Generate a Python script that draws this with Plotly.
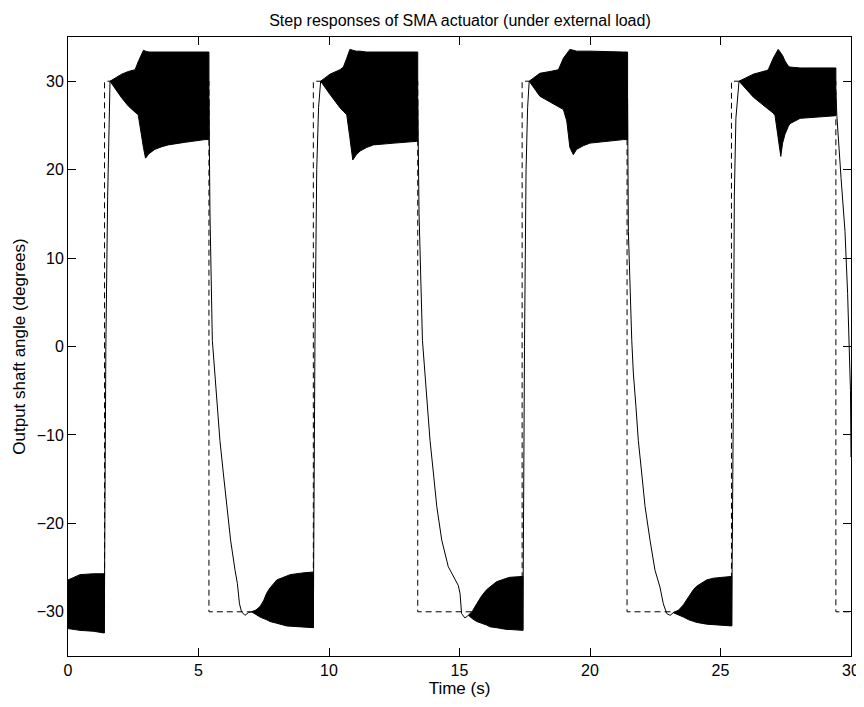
import plotly.graph_objects as go

# ---- reference (dashed square wave) ----
ref_t = [0, 1.40, 1.40, 5.40, 5.40, 9.40, 9.40, 13.40, 13.40, 17.40, 17.40, 21.42, 21.42, 25.42, 25.42, 29.42, 29.42, 30]
ref_y = [-30, -30, 30, 30, -30, -30, 30, 30, -30, -30, 30, 30, -30, -30, 30, 30, -30, -30]

# ---- oscillation envelopes (black bands) ----
bandL0_t = [0, 0.46, 0.97, 1.39]
bandL0_up = [-26.4, -25.8, -25.7, -25.7]
bandL0_lo = [-31.9, -32.1, -32.2, -32.4]

bandH1_t = [1.61, 2.06, 2.31, 2.57, 2.69, 2.82, 2.89, 2.97, 3.10, 3.33, 3.60, 3.84, 4.50, 5.25, 5.40]
bandH1_up = [30.0, 30.8, 31.1, 31.3, 32.2, 33.0, 33.5, 33.4, 33.3, 33.3, 33.3, 33.3, 33.3, 33.3, 33.3]
bandH1_lo = [30.0, 28.1, 27.2, 26.5, 26.2, 24.0, 22.5, 21.3, 21.8, 22.3, 22.6, 22.8, 23.1, 23.4, 23.4]

bandL1_t = [7.03, 7.20, 7.36, 7.50, 7.61, 7.74, 8.00, 8.38, 8.51, 9.00, 9.40]
bandL1_up = [-30.0, -29.8, -29.4, -28.7, -27.9, -27.3, -26.4, -25.9, -25.8, -25.6, -25.5]
bandL1_lo = [-30.0, -30.3, -30.6, -30.8, -30.9, -31.1, -31.3, -31.6, -31.6, -31.7, -31.8]

bandH2_t = [9.68, 10.04, 10.42, 10.55, 10.68, 10.80, 10.91, 11.05, 11.19, 11.44, 11.70, 12.50, 13.36, 13.40]
bandH2_up = [30.0, 30.8, 31.3, 31.6, 32.6, 33.6, 33.5, 33.4, 33.4, 33.3, 33.3, 33.3, 33.3, 33.3]
bandH2_lo = [30.0, 28.5, 27.0, 26.6, 26.2, 23.6, 21.1, 21.7, 22.1, 22.5, 22.8, 23.0, 23.2, 23.2]

bandL2_t = [15.34, 15.50, 15.66, 15.85, 16.04, 16.17, 16.42, 16.81, 16.93, 17.43]
bandL2_up = [-30.4, -29.9, -29.1, -28.2, -27.5, -27.2, -26.6, -26.2, -26.1, -26.0]
bandL2_lo = [-30.4, -30.8, -31.1, -31.3, -31.5, -31.7, -31.8, -32.0, -32.0, -32.1]

bandH3_t = [17.67, 18.08, 18.47, 18.60, 18.79, 18.98, 19.11, 19.23, 19.36, 19.49, 19.74, 20.00, 21.28, 21.44]
bandH3_up = [30.0, 30.9, 31.1, 31.2, 31.3, 32.6, 33.2, 33.6, 33.5, 33.4, 33.4, 33.4, 33.3, 33.3]
bandH3_lo = [30.0, 28.3, 27.6, 27.4, 27.1, 26.8, 25.5, 22.5, 21.7, 22.3, 22.7, 23.0, 23.4, 23.4]

bandL3_t = [23.19, 23.40, 23.58, 23.78, 23.96, 24.09, 24.47, 24.73, 24.98, 25.43]
bandL3_up = [-30.1, -29.8, -29.2, -28.3, -27.5, -27.1, -26.4, -26.2, -26.1, -26.0]
bandL3_lo = [-30.1, -30.4, -30.6, -30.9, -31.1, -31.2, -31.4, -31.5, -31.5, -31.6]

bandH4_t = [25.71, 26.13, 26.26, 26.76, 26.83, 27.02, 27.09, 27.21, 27.31, 27.38, 27.47, 27.60, 27.66, 28.05, 29.42]
bandH4_up = [30.0, 30.6, 30.8, 31.2, 31.3, 32.6, 33.0, 33.6, 33.2, 32.9, 32.3, 31.7, 31.6, 31.5, 31.5]
bandH4_lo = [30.0, 28.6, 28.2, 27.0, 26.9, 26.4, 26.1, 23.6, 21.5, 23.0, 24.0, 24.9, 25.2, 25.8, 26.1]

# ---- response transitions (thin solid line) ----
rise1_t = [1.39, 1.41, 1.45, 1.52, 1.57, 1.61]
rise1_y = [-32.4, -20.0, 0.0, 17.0, 26.0, 30.0]
fall1_t = [5.40, 5.42, 5.44, 5.53, 5.63, 5.72, 5.82, 5.95, 6.08, 6.23, 6.40, 6.49, 6.57, 6.65, 6.78, 6.91, 7.03]
fall1_y = [28.0, 23.0, 15.0, 0.7, -3.0, -6.8, -10.6, -14.3, -18.1, -21.9, -25.3, -26.8, -29.1, -30.0, -30.4, -30.1, -30.0]
rise2_t = [9.40, 9.42, 9.46, 9.53, 9.60, 9.68]
rise2_y = [-31.8, -20.0, 0.0, 20.0, 27.0, 30.0]
fall2_t = [13.40, 13.42, 13.45, 13.58, 13.68, 13.77, 13.87, 14.00, 14.13, 14.32, 14.57, 14.95, 15.02, 15.08, 15.21, 15.34]
fall2_y = [28.0, 23.0, 15.0, 0.7, -3.0, -6.8, -10.6, -14.3, -18.1, -21.9, -24.9, -27.0, -27.9, -30.2, -30.7, -30.4]
rise3_t = [17.43, 17.45, 17.49, 17.55, 17.61, 17.67]
rise3_y = [-32.1, -20.0, 0.0, 20.0, 27.0, 30.0]
fall3_t = [21.44, 21.45, 21.47, 21.60, 21.66, 21.76, 21.85, 21.98, 22.11, 22.30, 22.49, 22.68, 22.81, 22.94, 23.07, 23.19]
fall3_y = [28.0, 23.0, 13.0, 0.7, -3.0, -6.8, -10.6, -14.3, -18.1, -21.9, -25.3, -27.2, -29.1, -30.2, -30.4, -30.1]
rise4_t = [25.43, 25.45, 25.49, 25.53, 25.59, 25.71]
rise4_y = [-31.6, -24.8, -7.0, 17.0, 25.8, 30.0]
fall4_t = [29.42, 29.46, 29.62, 29.77, 29.87, 29.94, 29.98, 30.0]
fall4_y = [28.8, 26.0, 19.0, 13.0, 6.0, 0.0, -5.0, -12.5]

fig = go.Figure()

fig.add_trace(go.Scatter(x=ref_t, y=ref_y, mode="lines",
                         line=dict(color="black", width=1, dash="6px,4px"),
                         hoverinfo="skip", showlegend=False))

bands = [
    (bandL0_t, bandL0_up, bandL0_lo),
    (bandH1_t, bandH1_up, bandH1_lo),
    (bandL1_t, bandL1_up, bandL1_lo),
    (bandH2_t, bandH2_up, bandH2_lo),
    (bandL2_t, bandL2_up, bandL2_lo),
    (bandH3_t, bandH3_up, bandH3_lo),
    (bandL3_t, bandL3_up, bandL3_lo),
    (bandH4_t, bandH4_up, bandH4_lo),
]
for t, up, lo in bands:
    fig.add_trace(go.Scatter(x=list(t) + list(t)[::-1], y=list(up) + list(lo)[::-1],
                             mode="lines", fill="toself", fillcolor="black",
                             line=dict(color="black", width=1),
                             hoverinfo="skip", showlegend=False))

segments = [(rise1_t, rise1_y), (fall1_t, fall1_y), (rise2_t, rise2_y), (fall2_t, fall2_y),
            (rise3_t, rise3_y), (fall3_t, fall3_y), (rise4_t, rise4_y), (fall4_t, fall4_y)]
for t, y in segments:
    fig.add_trace(go.Scatter(x=t, y=y, mode="lines",
                             line=dict(color="black", width=1),
                             hoverinfo="skip", showlegend=False))

font = "Liberation Sans, Arial, Helvetica, sans-serif"
axis_common = dict(showline=True, linecolor="black", linewidth=1, mirror="ticks",
                   ticks="inside", ticklen=8, tickcolor="black", tickwidth=1,
                   showgrid=False, zeroline=False, automargin=False,
                   tickfont=dict(family=font, size=16, color="black"))

# the page body adds an 8px offset, so the figure is sized to fit the window
fig.update_layout(
    width=856, height=691,
    margin=dict(l=60, r=13, t=29, b=43),
    paper_bgcolor="white", plot_bgcolor="white",
    title=dict(text="Step responses of SMA actuator (under external load)",
               x=0.528, xanchor="center", y=1 - 12 / 691, yanchor="middle", yref="container",
               automargin=False,
               font=dict(family=font, size=16, color="black")),
    xaxis=dict(range=[0, 30], tickvals=[0, 5, 10, 15, 20, 25, 30],
               title=dict(text="Time (s)", font=dict(family=font, size=17, color="black"), standoff=1),
               **axis_common),
    yaxis=dict(range=[-35, 35], tickvals=[-30, -20, -10, 0, 10, 20, 30],
               title=dict(text="Output shaft angle (degrees)", font=dict(family=font, size=17, color="black"), standoff=6),
               **axis_common),
)

fig.write_html("out.html")
